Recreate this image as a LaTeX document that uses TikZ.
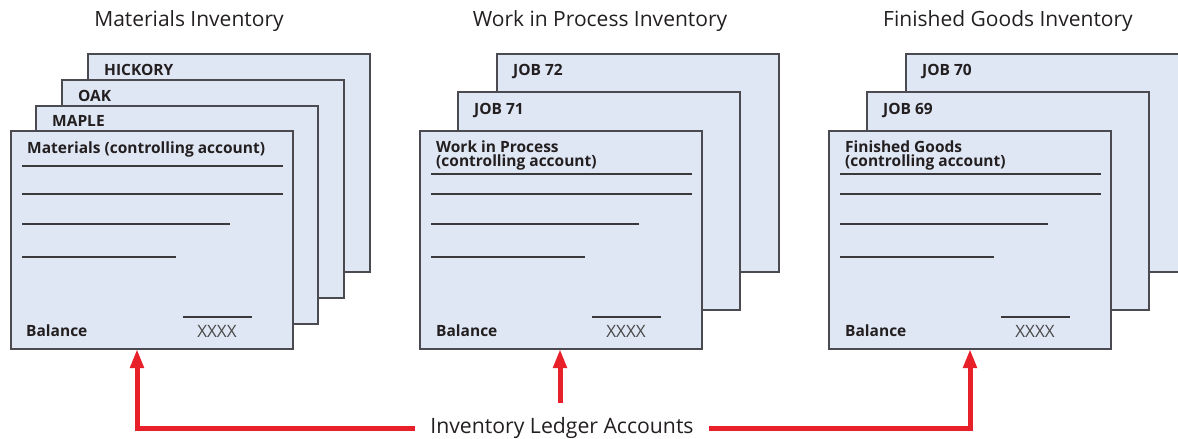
\documentclass[tikz,border=0pt]{standalone}
\usepackage{fontspec}
\setmainfont{Open Sans}
\usetikzlibrary{arrows.meta}
\definecolor{cardfill}{HTML}{E0E7F4}
\definecolor{cardline}{HTML}{4A4A50}
\definecolor{ruleline}{HTML}{3A3A3C}
\definecolor{inkred}{HTML}{E8202A}
\definecolor{ink}{HTML}{231F20}
\definecolor{amount}{HTML}{484848}

% ruled entry lines of a front ledger card: #1 = left edge of the card, #2 = y of the first rule
\newcommand\ledgerrules[2]{%
  \draw[rule] (#1+11,#2) -- (#1+272,#2);
  \draw[rule] (#1+11,194) -- (#1+272,194);
  \draw[rule] (#1+11,224) -- (#1+219,224);
  \draw[rule] (#1+11,257) -- (#1+165,257);
  \draw[rule] (#1+172,317) -- (#1+241,317);
}

\begin{document}
\begin{tikzpicture}[x=1pt,y=-1pt,
  card/.style={draw=cardline,fill=cardfill,line width=1.4pt,anchor=north west,
    minimum width=282pt,minimum height=218pt,inner sep=0pt,outer sep=0pt},
  rule/.style={draw=ruleline,line width=1.2pt},
  title/.style={font=\fontsize{21}{24}\selectfont,text=ink,anchor=base,inner sep=0pt},
  tag/.style={font=\fontsize{15.5}{14}\selectfont\bfseries,text=ink,anchor=base west,inner sep=0pt,align=left},
  amt/.style={font=\fontsize{17}{17}\selectfont,text=amount,anchor=base,inner sep=0pt},
  feed/.style={draw=inkred,line width=5pt,-{Triangle[width=13pt,length=19pt]}}]
\useasboundingbox (0,0) rectangle (1178,439);

% ---------- column titles ----------
\node[title] (tmat) at (189,27) {Materials Inventory};
\node[title] (twip) at (600,27) {Work in Process Inventory};
\node[title] (tfg)  at (1008,27) {Finished Goods Inventory};

% ---------- materials ledger ----------
\node[card] (hickory) at (88,54) {};
\node[tag] (lhickory) at (104,75) {HICKORY};
\node[card] (oak) at (62,80) {};
\node[tag] (loak) at (78,101) {OAK};
\node[card] (maple) at (36,106) {};
\node[tag] (lmaple) at (52,126) {MAPLE};
\node[card] (matfront) at (11,131) {};
\node[tag] (lmat) at (27,153) {Materials (controlling account)};
\ledgerrules{11}{166}
\node[tag] (bmat) at (26,336) {Balance};
\node[amt] (xmat) at (217,337) {XXXX};

% ---------- work in process ledger ----------
\node[card] (job72) at (497,54) {};
\node[tag] (ljob72) at (513,75) {JOB 72};
\node[card] (job71) at (458,92) {};
\node[tag] (ljob71) at (474,114) {JOB 71};
\node[card] (wipfront) at (420,131) {};
\node[tag] (lwip) at (436,166) {Work in Process\\(controlling account)};
\ledgerrules{420}{174}
\node[tag] (bwip) at (436,336) {Balance};
\node[amt] (xwip) at (626,337) {XXXX};

% ---------- finished goods ledger ----------
\begin{scope}
  \clip (0,0) rectangle (1178,439);
  \node[card] (job70) at (906,54) {};
\end{scope}
\node[tag] (ljob70) at (922,75) {JOB 70};
\node[card] (job69) at (867,92) {};
\node[tag] (ljob69) at (883,114) {JOB 69};
\node[card] (fgfront) at (829,131) {};
\node[tag] (lfg) at (845,166) {Finished Goods\\(controlling account)};
\ledgerrules{829}{174}
\node[tag] (bfg) at (845,336) {Balance};
\node[amt] (xfg) at (1035,337) {XXXX};

% ---------- subsidiary ledger pointers ----------
\node[font=\fontsize{21.2}{24}\selectfont,text=ink,inner xsep=15pt,inner ysep=0pt] (ledger) at (562,428) {Inventory Ledger Accounts};
\coordinate (matin) at (137,349);
\coordinate (wipin) at (560,349);
\coordinate (fgin)  at (970,349);
\coordinate (wipout) at (560,403);
\draw[feed] (ledger.west) -| (matin);
\draw[feed] (wipout) -- (wipin);
\draw[feed] (ledger.east) -| (fgin);
\end{tikzpicture}
\end{document}
